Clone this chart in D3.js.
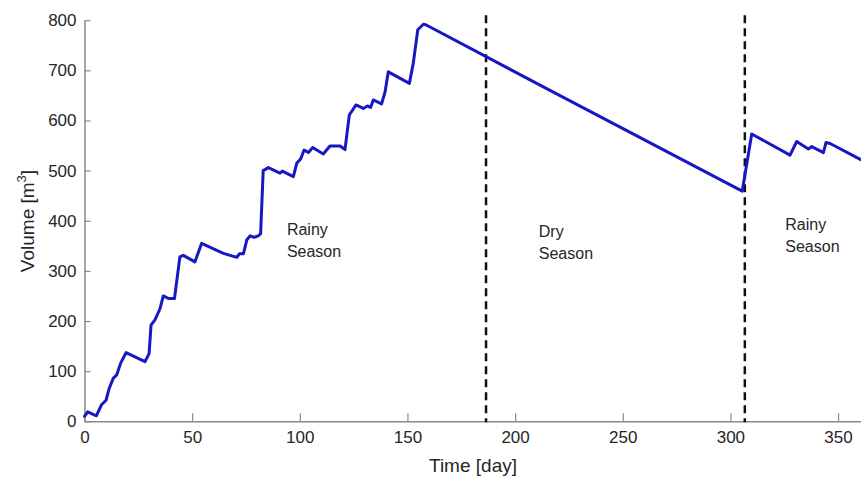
<!DOCTYPE html>
<html>
<head>
<meta charset="utf-8">
<script src="https://cdn.jsdelivr.net/npm/d3@7"></script>
<style>
  body { margin: 0; background: #fff; }
  text { font-family: "Liberation Sans", Arial, sans-serif; }
</style>
</head>
<body>
<svg id="chart"></svg>
<script>
// reservoir volume over one year
const days = [0, 1.5, 5.5, 7.9, 10, 11.5, 13.4, 14.9, 16.8, 19.3, 28.1, 30, 30.9, 32.8, 35.1, 36.6, 38.9, 41.8, 44.3, 45.9,
  51.3, 54.4, 64.5, 70.8, 71.9, 73.8, 75.4, 77, 78.8, 80.7, 81.8, 83, 85.4, 90.8, 91.9, 97, 98.6, 100.4, 102, 104,
  106, 110.9, 114, 118.7, 121, 123, 126.1, 129.5, 131.4, 132.9, 134.1, 138, 139.6, 141.1, 150.9, 152.7, 154.8, 157.4, 158.5, 214,
  305.5, 309.9, 327.7, 330.8, 336.2, 337.8, 343.2, 344.4, 346.3, 361]
const volume = [10, 19, 11, 33, 42, 66, 86, 92, 116, 137, 119, 135, 192, 203, 225, 250, 245, 245, 328, 331,
  318, 355, 335, 327, 334, 334, 362, 370, 367, 370, 374, 500, 506, 495, 499, 488, 515, 523, 541, 536,
  546, 533, 549, 549, 542, 611, 631, 624, 629, 626, 641, 633, 657, 697, 674, 714, 781, 792, 791, 665,
  459, 573, 531, 558, 543, 548, 536, 556, 554, 521]
const xTicks = [0, 50, 100, 150, 200, 250, 300, 350]
const yTicks = [0, 100, 200, 300, 400, 500, 600, 700, 800]
const seasonBreaks = [186.5, 306.7]
const seasonLabels = [
  { day: 94, vol: 371, lines: ["Rainy", "Season"] },
  { day: 211, vol: 367, lines: ["Dry", "Season"] },
  { day: 325.5, vol: 382, lines: ["Rainy", "Season"] }
]

const width = 861, height = 481
const svg = d3.select("#chart").attr("width", width).attr("height", height)

const x = d3.scaleLinear().domain([0, 365]).range([84.5, 84.5 + 365 * 2.153])
const y = d3.scaleLinear().domain([0, 800]).range([421.3, 20.2])

// axes
const xAxis = svg.append("g")
  .attr("transform", `translate(0,${y(0)})`)
  .call(d3.axisBottom(x).tickValues(xTicks).tickSizeInner(-8).tickSizeOuter(0).tickPadding(10))
const yAxis = svg.append("g")
  .attr("transform", `translate(${x(0)},0)`)
  .call(d3.axisLeft(y).tickValues(yTicks).tickSizeInner(-6).tickSizeOuter(0).tickPadding(8))

for (const g of [xAxis, yAxis]) {
  g.select(".domain").attr("stroke", "#8a8a8a").attr("stroke-width", 1.5)
  g.selectAll(".tick line").attr("stroke", "#8a8a8a").attr("stroke-width", 1.2)
  g.selectAll(".tick text").attr("fill", "#262626").style("font-size", "17px")
}

// season boundaries
svg.selectAll(".season")
  .data(seasonBreaks)
  .join("line")
  .attr("class", "season")
  .attr("x1", d => x(d)).attr("x2", d => x(d))
  .attr("y1", y(810)).attr("y2", y(-2))
  .attr("stroke", "#111")
  .attr("stroke-width", 2.5)
  .attr("stroke-dasharray", "8,5")

// volume curve
const line = d3.line()
  .x(d => x(d[0]))
  .y(d => y(d[1]))
svg.append("path")
  .datum(d3.zip(days, volume))
  .attr("d", line)
  .attr("fill", "none")
  .attr("stroke", "#1717c4")
  .attr("stroke-width", 3)
  .attr("stroke-linejoin", "round")
  .attr("stroke-linecap", "round")

// season text
const lab = svg.selectAll(".lab")
  .data(seasonLabels)
  .join("text")
  .attr("class", "lab")
  .attr("x", d => x(d.day))
  .attr("y", d => y(d.vol))
  .attr("fill", "#262626")
  .style("font-size", "16px")
lab.selectAll("tspan")
  .data(d => d.lines.map((t, i) => ({ t, i, day: d.day })))
  .join("tspan")
  .attr("x", d => x(d.day))
  .attr("dy", d => d.i === 0 ? 0 : 22)
  .text(d => d.t)

// axis titles
svg.append("text")
  .attr("x", 473).attr("y", 472)
  .attr("text-anchor", "middle")
  .attr("fill", "#262626")
  .style("font-size", "19px")
  .text("Time [day]")

const yl = svg.append("text")
  .attr("transform", "translate(34,221) rotate(-90)")
  .attr("text-anchor", "middle")
  .attr("fill", "#262626")
  .style("font-size", "19px")
yl.append("tspan").text("Volume [m")
yl.append("tspan").attr("dy", -8).style("font-size", "13px").text("3")
yl.append("tspan").attr("dy", 8).text("]")
</script>
</body>
</html>
